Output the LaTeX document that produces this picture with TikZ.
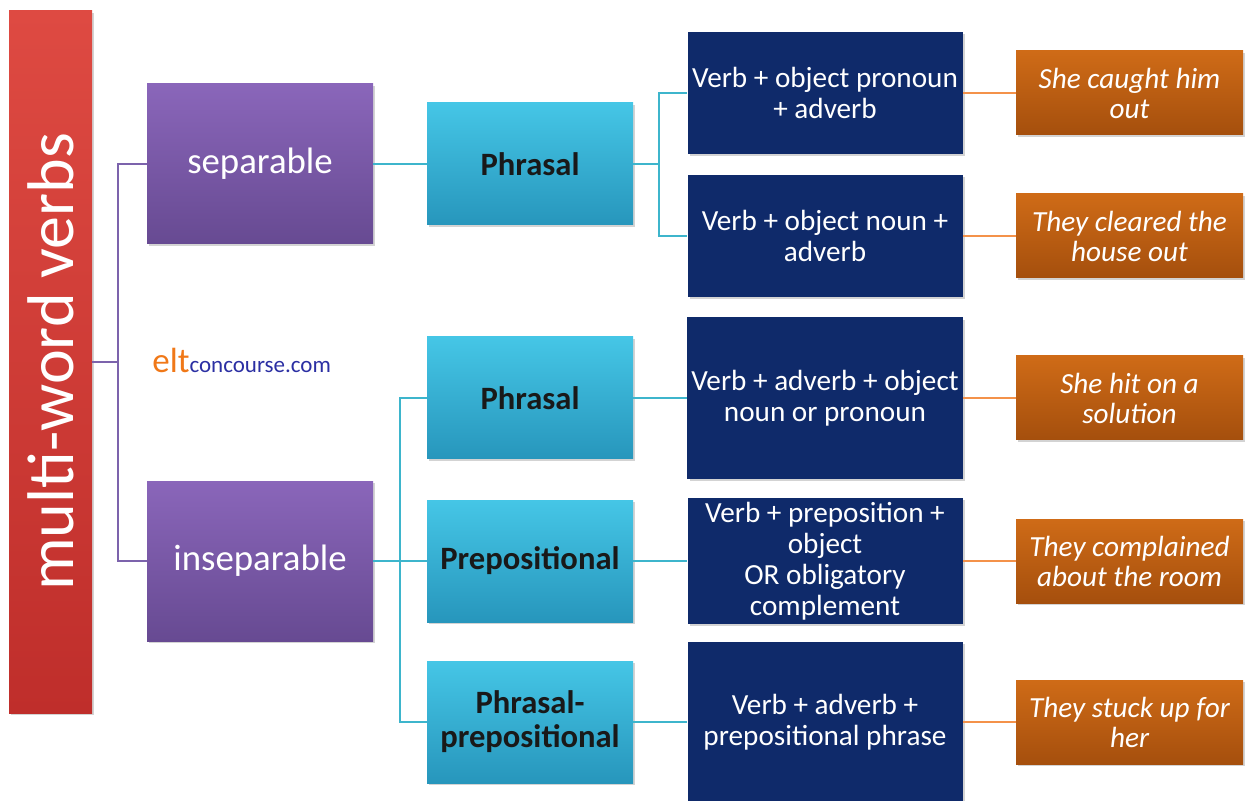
\documentclass[tikz,border=0pt]{standalone}
\usepackage{fontspec}
\setmainfont{Carlito}
\usetikzlibrary{shadows}

\definecolor{barred}{HTML}{BF2E2B}
\definecolor{barredtop}{HTML}{DE4A42}
\definecolor{purtop}{HTML}{8A66BA}
\definecolor{purbot}{HTML}{674A92}
\definecolor{cyantop}{HTML}{45C6E6}
\definecolor{cyanbot}{HTML}{2796BC}
\definecolor{navy}{HTML}{0F2A6A}
\definecolor{rusttop}{HTML}{CF6B17}
\definecolor{rustbot}{HTML}{A54F0D}
\definecolor{purline}{HTML}{7C63AC}
\definecolor{cyanline}{HTML}{3DB5CC}
\definecolor{orangeline}{HTML}{F4924A}
\definecolor{eltorange}{HTML}{F07818}
\definecolor{eltblue}{HTML}{2B2FA3}

\tikzset{
  box/.style={rectangle, align=center, inner sep=2pt,
    drop shadow={opacity=0.35, shadow xshift=1.2pt, shadow yshift=-1.2pt}},
  mainbar/.style={box, top color=barredtop, bottom color=barred, text=white,
    rotate=90, minimum width=351pt, minimum height=41.5pt,
    font=\fontsize{33}{35}\selectfont},
  kindbox/.style={box, top color=purtop, bottom color=purbot, text=white,
    minimum width=113pt, minimum height=80pt, font=\fontsize{18.4}{20}\selectfont},
  typebox/.style={box, top color=cyantop, bottom color=cyanbot, text=black!90,
    minimum width=103pt, minimum height=61pt, font=\bfseries\fontsize{16.3}{17}\selectfont},
  patbox/.style={box, fill=navy, text=white,
    minimum width=137.5pt, minimum height=61pt, font=\fontsize{14.6}{15.5}\selectfont},
  exbox/.style={box, top color=rusttop, bottom color=rustbot, text=white,
    minimum width=113.5pt, minimum height=42pt, font=\itshape\fontsize{14.6}{15}\selectfont},
  purlink/.style={purline, line width=1.2pt},
  cyanlink/.style={cyanline, line width=1.2pt},
  exlink/.style={orangeline, line width=1.2pt}
}

\begin{document}
\begin{tikzpicture}[x=0.5pt,y=-0.5pt]
  \useasboundingbox (0,0) rectangle (1246,801);
  \node[mainbar] (bar) at (50.5,362) {multi-word verbs};
  \node[kindbox] (sep) at (260,164) {separable};
  \node[kindbox] (insep) at (260,561) {inseparable};
  \node[inner sep=0pt, anchor=base west] (logo) at (152,373)
      {{\fontsize{17.5}{17}\selectfont\color{eltorange}elt}{\fontsize{11.5}{12}\selectfont\color{eltblue}concourse.com}};

  \node[typebox] (ph1) at (530,164) {Phrasal};
  \node[typebox] (ph2) at (530,398) {Phrasal};
  \node[typebox] (prep) at (530,561) {Prepositional};
  \node[typebox] (pp) at (530,722) {Phrasal-\\prepositional};

  \node[patbox] (d1) at (825,93) {Verb + object pronoun\\+ adverb};
  \node[patbox] (d2) at (825,236) {Verb + object noun +\\adverb};
  \node[patbox, minimum height=80.5pt] (d3) at (825,398) {Verb + adverb + object\\noun or pronoun};
  \node[patbox] (d4) at (825,561) {Verb + preposition +\\object\\OR obligatory\\complement};
  \node[patbox, minimum height=80pt] (d5) at (825,722) {Verb + adverb +\\prepositional phrase};

  \node[exbox] (e1) at (1129.5,93) {She caught him\\out};
  \node[exbox] (e2) at (1129.5,236) {They cleared the\\house out};
  \node[exbox] (e3) at (1129.5,398) {She hit on a\\solution};
  \node[exbox] (e4) at (1129.5,561) {They complained\\about the room};
  \node[exbox] (e5) at (1129.5,722) {They stuck up for\\her};

  \coordinate (pj) at (118,362);
  \coordinate (cj) at (659,164);
  \coordinate (ij) at (400,561);
  \draw[purlink] (bar.south) -- (pj);
  \draw[purlink] (sep.west) -| (pj) |- (insep.west);
  \draw[cyanlink] (sep.east) -- (ph1.west);
  \draw[cyanlink] (ph1.east) -- (cj);
  \draw[cyanlink] (d1.west) -| (cj) |- (d2.west);
  \draw[cyanlink] (insep.east) -- (ij);
  \draw[cyanlink] (ph2.west) -| (ij) |- (pp.west);
  \draw[cyanlink] (ij) -- (prep.west);
  \draw[cyanlink] (ph2.east) -- (d3.west);
  \draw[cyanlink] (prep.east) -- (d4.west);
  \draw[cyanlink] (pp.east) -- (d5.west);
  \foreach \i in {1,...,5}
    \draw[exlink] (d\i.east) -- (e\i.west);
\end{tikzpicture}
\end{document}
